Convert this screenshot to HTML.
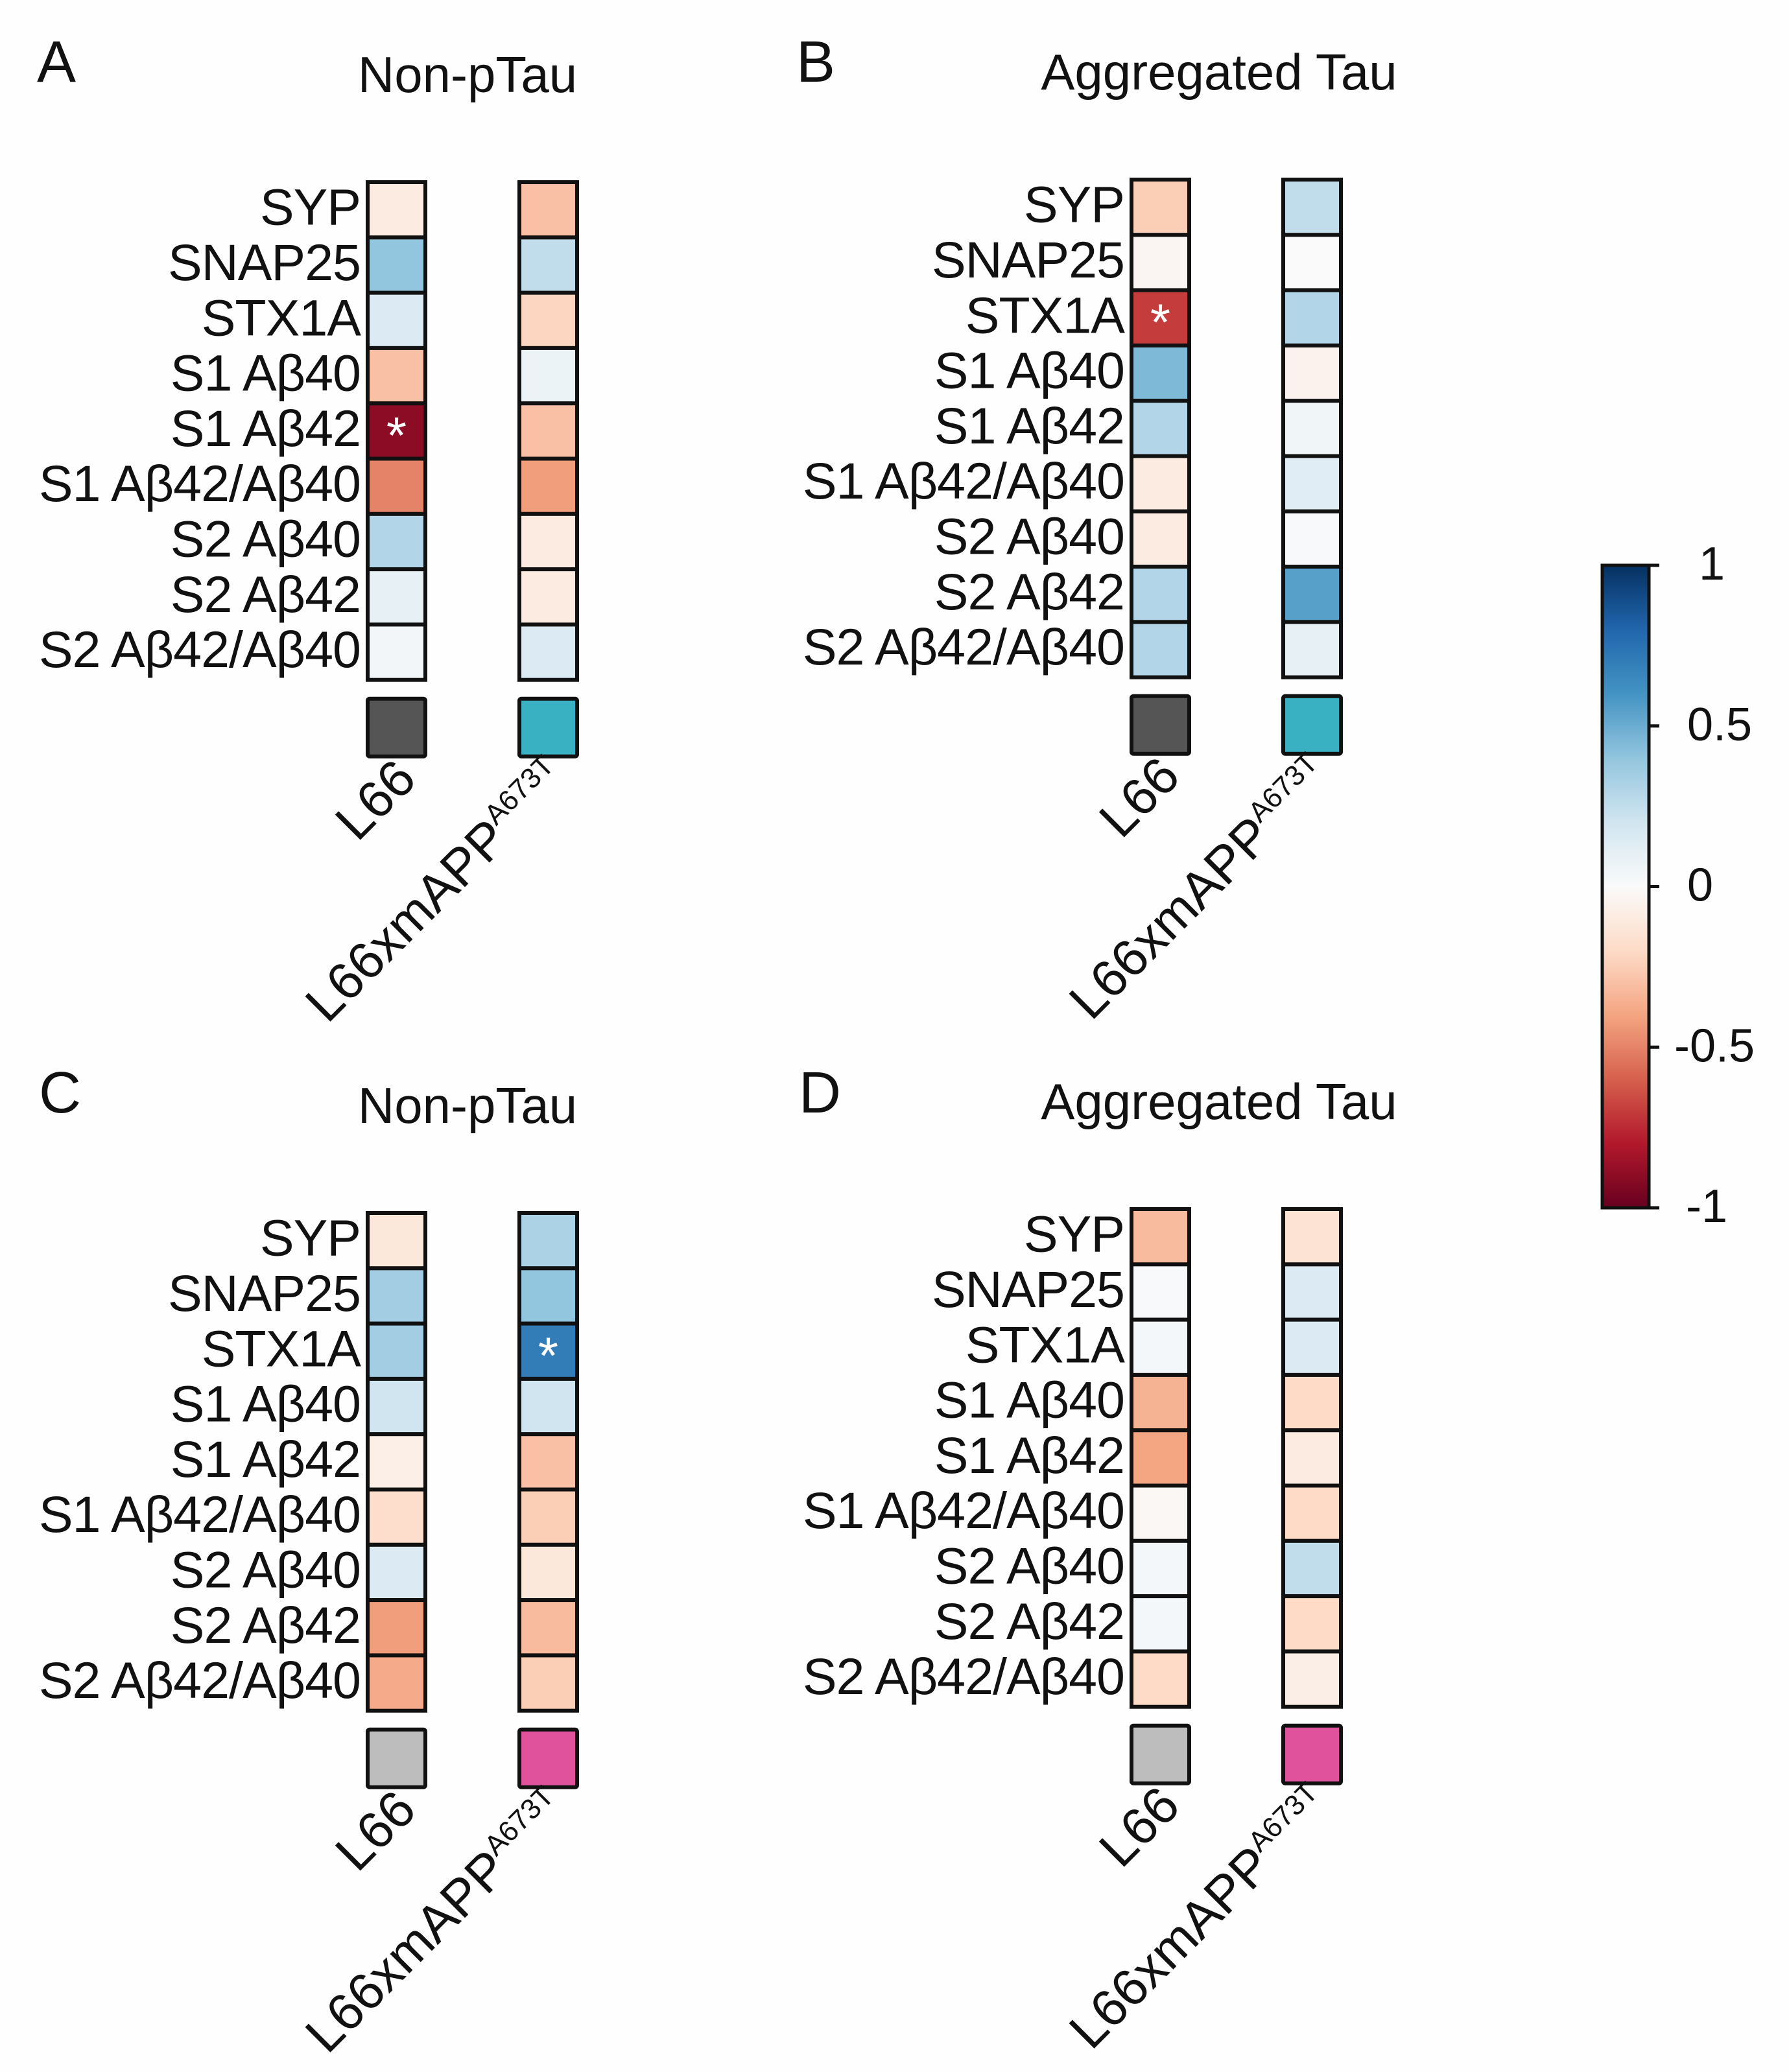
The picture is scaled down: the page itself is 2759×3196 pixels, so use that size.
<!DOCTYPE html>
<html><head><meta charset="utf-8"><style>
html,body{margin:0;padding:0;background:#fff}
svg{display:block}
text{font-family:"Liberation Sans",sans-serif;fill:#111}
</style></head><body>
<svg id="fig" width="2759" height="3196" viewBox="0 0 2759 3196" xmlns="http://www.w3.org/2000/svg">
<rect x="0" y="0" width="2759" height="3196" fill="#fefefe"/>
</svg>
<script>
const rowLabels = ["SYP","SNAP25","STX1A","S1 Aβ40","S1 Aβ42","S1 Aβ42/Aβ40","S2 Aβ40","S2 Aβ42","S2 Aβ42/Aβ40"];
const groups = ["L66","L66xmAPP"];
const panelLetters = ["A","B","C","D"];
const panelTitles = ["Non-pTau","Aggregated Tau","Non-pTau","Aggregated Tau"];
const valsA1 = [-0.1,0.4,0.15,-0.3,-0.9,-0.5,0.3,0.1,0.04];
const valsA2 = [-0.3,0.25,-0.22,0.07,-0.3,-0.42,-0.1,-0.1,0.15];
const valsB1 = [-0.25,-0.03,-0.7,0.45,0.3,-0.1,-0.1,0.3,0.3];
const valsB2 = [0.25,0.0,0.3,-0.05,0.05,0.12,0.01,0.55,0.1];
const valsC1 = [-0.12,0.35,0.35,0.2,-0.07,-0.18,0.15,-0.42,-0.38];
const valsC2 = [0.32,0.4,0.7,0.2,-0.3,-0.25,-0.12,-0.32,-0.25];
const valsD1 = [-0.32,0.01,0.03,-0.35,-0.4,-0.02,0.03,0.03,-0.2];
const valsD2 = [-0.15,0.15,0.15,-0.2,-0.1,-0.2,0.25,-0.2,-0.08];
const starsA1 = [4], starsA2 = [], starsB1 = [2], starsB2 = [], starsC1 = [], starsC2 = [2], starsD1 = [], starsD2 = [];
const cbTicks = [1,0.5,0,-0.5,-1];
const cbTickLabels = ["1","0.5","0","-0.5","-1"];

const NS="http://www.w3.org/2000/svg";
const svg=document.getElementById("fig");
function mk(tag,attrs,parent){const e=document.createElementNS(NS,tag);for(const k in attrs)e.setAttribute(k,attrs[k]);(parent||svg).appendChild(e);return e;}
const stops=[[-1,[103,0,31]],[-0.8,[178,24,43]],[-0.6,[214,96,77]],[-0.4,[244,165,130]],[-0.2,[253,219,199]],[0,[250,250,250]],[0.2,[209,229,240]],[0.4,[146,197,222]],[0.6,[67,147,195]],[0.8,[33,102,172]],[1,[5,48,97]]];
function color(v){v=Math.max(-1,Math.min(1,v));for(let i=0;i<stops.length-1;i++){const a=stops[i],b=stops[i+1];if(v<=b[0]){const t=(v-a[0])/(b[0]-a[0]);const c=a[1].map((x,j)=>Math.round(x+(b[1][j]-x)*t));return "rgb("+c.join(",")+")";}}return "rgb(5,48,97)";}

const panels=[
 {dx:0,dy:0,v:[valsA1,valsA2],s:[starsA1,starsA2],sw:["#555555","#3ab0c3"],lx:57,ly:126},
 {dx:1178,dy:-4,v:[valsB1,valsB2],s:[starsB1,starsB2],sw:["#555555","#3ab0c3"],lx:1228,ly:126},
 {dx:0,dy:1590,v:[valsC1,valsC2],s:[starsC1,starsC2],sw:["#bdbdbd","#e0529c"],lx:60,ly:1716},
 {dx:1178,dy:1584,v:[valsD1,valsD2],s:[starsD1,starsD2],sw:["#bdbdbd","#e0529c"],lx:1232,ly:1716}
];
const colX=[567,801], cw=89, top0=281, rh=85.3;
panels.forEach((p,pi)=>{
  const g=mk("g",{});
  
  
  const L=mk("text",{x:p.lx,y:p.ly,"font-size":90},g);L.textContent=panelLetters[pi];
  
  
  const tx = (pi%2===0) ? 721 : 1880-1178;
  const T=mk("text",{x:tx+p.dx,y:142+p.dy,"font-size":78,"text-anchor":"middle"},g);T.textContent=panelTitles[pi];
  
  
  const top=top0+p.dy;
  rowLabels.forEach((lab,r)=>{
    const t=mk("text",{x:556+p.dx,y:top+(r+0.5)*rh+23,"font-size":79,"text-anchor":"end","letter-spacing":"-1"},g);
    t.textContent=lab;
    
    
  });
  p.v.forEach((vals,c)=>{
    const x=colX[c]+p.dx;
    vals.forEach((v,r)=>{
      const y=top+r*rh;
      const rc=mk("rect",{x:x,y:y,width:cw,height:rh,fill:color(v),stroke:"#111","stroke-width":6},g);
      
      
      if(p.s[c].includes(r)){
        const st=mk("text",{x:x+cw/2,y:y+rh/2+34,"font-size":80,"text-anchor":"middle",style:"fill:#fff"},g);
        st.textContent="*";
        
        
      }
    });
    const sy=top+9*rh+29;
    const sw=mk("rect",{x:x,y:sy,width:cw,height:89,fill:p.sw[c],stroke:"#111","stroke-width":6,rx:3},g);
    
    
    const ax=x+cw/2+34, ay=sy+128;
    const gl=mk("text",{x:ax,y:ay,"font-size":80,"text-anchor":"end",transform:"rotate(-45 "+ax+" "+ay+")"},g);
    
    
    if(c===0){gl.textContent=groups[0];}
    else{
      const m=mk("tspan",{},gl);m.textContent=groups[1];
      const sp=mk("tspan",{"font-size":44,dy:-32},gl);sp.textContent="A673T";
    }
  });
});
// colorbar
const cbX=2471,cbW=72,cbTop=872,cbBot=1863;
function cbY(v){return cbTop+(1-v)/2*(cbBot-cbTop);}
const cbLabelX=[2620,2602,2602,2582,2600];
const defs=mk("defs",{});
const lg=mk("linearGradient",{id:"cbg",x1:0,y1:0,x2:0,y2:1},defs);
for(let i=0;i<=20;i++){const v=1-i/10;mk("stop",{offset:(i/20),"stop-color":color(v)},lg);}
const cb=mk("rect",{x:cbX,y:cbTop,width:cbW,height:cbBot-cbTop,fill:"url(#cbg)",stroke:"#111","stroke-width":5});


cbTicks.forEach((v,i)=>{
  const y=cbY(v);
  const tk=mk("line",{x1:cbX+cbW,x2:cbX+cbW+16,y1:y,y2:y,stroke:"#111","stroke-width":5});
  
  
  const t=mk("text",{x:cbLabelX[i],y:y+22,"font-size":72},null);
  t.textContent=cbTickLabels[i];
  
  
});
</script>
</body></html>
